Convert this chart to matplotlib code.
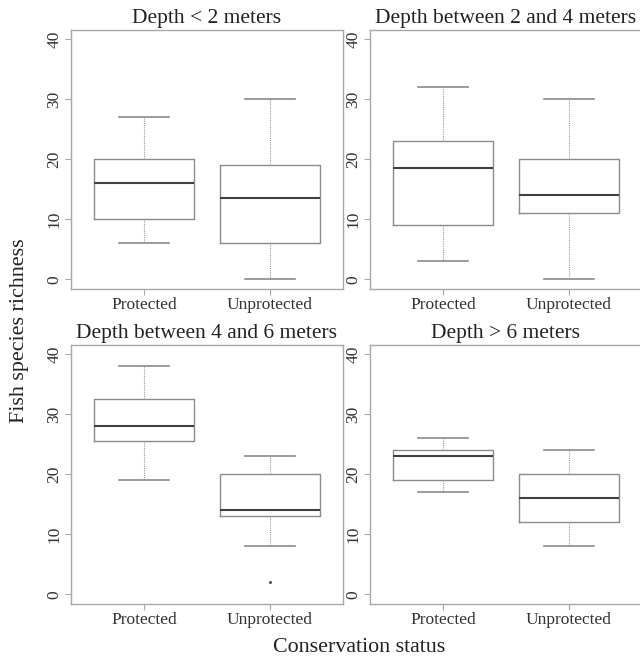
import matplotlib.pyplot as plt

# Five-number summaries (low whisker, Q1, median, Q3, high whisker)
groups = ['Protected', 'Unprotected']
titles = ['Depth < 2 meters', 'Depth between 2 and 4 meters',
          'Depth between 4 and 6 meters', 'Depth > 6 meters']

whislo = [[6, 0], [3, 0], [19, 8], [17, 8]]
q1 = [[10, 6], [9, 11], [25.5, 13], [19, 12]]
med = [[16, 13.5], [18.5, 14], [28, 14], [23, 16]]
q3 = [[20, 19], [23, 20], [32.5, 20], [24, 20]]
whishi = [[27, 30], [32, 30], [38, 23], [26, 24]]
outliers = [[[], []], [[], []], [[], [2]], [[], []]]

yticks = [0, 10, 20, 30, 40]

plt.rcParams['font.family'] = ['Liberation Serif', 'DejaVu Serif']

fig = plt.figure(figsize=(6.4, 6.61), dpi=100)

# axes rectangles in figure fractions (right column runs slightly off the page)
positions = [
    [0.1109, 0.5629, 0.425, 0.3922],
    [0.578, 0.5629, 0.425, 0.3922],
    [0.1109, 0.0864, 0.425, 0.3922],
    [0.578, 0.0864, 0.425, 0.3922],
]

box_col = '#8a8a8a'
frame_col = '#a8a8a8'

for i, rect in enumerate(positions):
    ax = fig.add_axes(rect)
    stats = []
    for j, g in enumerate(groups):
        stats.append({
            'label': g,
            'whislo': whislo[i][j],
            'q1': q1[i][j],
            'med': med[i][j],
            'q3': q3[i][j],
            'whishi': whishi[i][j],
            'fliers': outliers[i][j],
        })
    ax.bxp(stats, positions=[1, 2], widths=0.8, showfliers=True,
           boxprops=dict(color=box_col, linewidth=1.0),
           medianprops=dict(color='#404040', linewidth=1.5),
           whiskerprops=dict(color='#9a9a9a', linewidth=0.8, linestyle=(0, (1, 1))),
           capprops=dict(color=box_col, linewidth=1.2),
           capwidths=0.4,
           flierprops=dict(marker='o', markersize=1.2, markerfacecolor='#555555',
                           markeredgecolor='#555555'))
    ax.set_xlim(0.42, 2.58)
    ax.set_ylim(-1.6, 41.6)
    ax.set_yticks(yticks)
    ax.set_title(titles[i], fontsize=15.5, pad=5, color='#222222')
    for s in ax.spines.values():
        s.set_color(frame_col)
        s.set_linewidth(1.0)
    ax.tick_params(axis='both', colors=frame_col, labelcolor='#333333',
                   labelsize=12.5, length=4, width=0.8, pad=2)
    ax.tick_params(axis='y', labelrotation=90)
    for lab in ax.get_yticklabels():
        lab.set_va('center')

fig.text(0.031, 0.5, 'Fish species richness', rotation=90, ha='center',
         va='center', fontsize=15.8, color='#222222')
fig.text(0.561, 0.02, 'Conservation status', ha='center', va='center',
         fontsize=15.8, color='#222222')

fig.savefig('out.png', dpi=100)
